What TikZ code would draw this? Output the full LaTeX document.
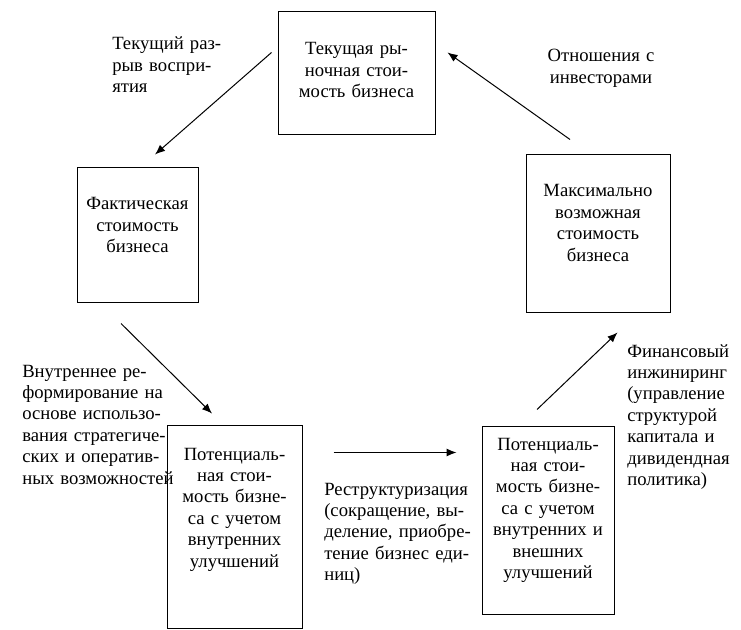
\documentclass[tikz,border=0pt]{standalone}
\usepackage{fontspec}
\setmainfont{Liberation Serif}
\usetikzlibrary{positioning,arrows.meta,calc}
\tikzstyle{vbox}=[rectangle, draw=black, line width=0.75pt, inner sep=0pt, align=center, anchor=base, font=\fontsize{14pt}{16.1pt}\selectfont]
\tikzstyle{ltext}=[inner sep=0pt, align=left, anchor=base west, text width=150pt, font=\fontsize{14pt}{16.1pt}\selectfont]
\tikzstyle{vline}=[-{Latex[length=7.5pt,width=6pt]}, line width=0.75pt, black]

\begin{document}
\begin{tikzpicture}[x=0.75pt, y=-0.75pt]
    \useasboundingbox (0,0) rectangle (741,630);

    \node (cur) [vbox, text width=117.75pt, text height=32.25pt, text depth=60pt] at (356.5,55)
	{Текущая ры-\\ночная стои-\\мость бизнеса};
    \node (fact) [vbox, text width=90.75pt, text height=31.5pt, text depth=69.75pt] at (137.5,210)
	{Фактическая\\стоимость\\бизнеса};
    \node (max) [vbox, text width=108pt, text height=31.5pt, text depth=87pt] at (598,197)
	{Максимально\\возможная\\стоимость\\бизнеса};
    \node (pin) [vbox, text width=101.25pt, text height=26.25pt, text depth=126pt] at (234.5,460)
	{Потенциаль-\\ная стои-\\мость бизне-\\са с учетом\\внутренних\\улучшений};
    \node (pext) [vbox, text width=99pt, text height=18pt, text depth=123pt] at (548,450)
	{Потенциаль-\\ная стои-\\мость бизне-\\са с учетом\\внутренних и\\внешних\\улучшений};

% labels
    \node (gap) [ltext] at (112,50) {Текущий раз-\\рыв воспри-\\ятия};
    \node (inv) [ltext, align=center, anchor=base, text width=90pt] at (601,62) {Отношения с\\инвесторами};
    \node (intl) [ltext] at (22,377) {Внутреннее ре-\\формирование на\\основе использо-\\вания стратегиче-\\ских и оператив-\\ных возможностей};
    \node (restr) [ltext] at (324,495) {Реструктуризация\\(сокращение, вы-\\деление, приобре-\\тение бизнес еди-\\ниц)};
    \node (fin) [ltext] at (627,357) {Финансовый\\инжиниринг\\(управление\\структурой\\капитала и\\дивидендная\\политика)};

% lines
   \draw[vline] ($(cur.north west)+(-6,41)$) -- ($(fact.north)+(17.5,-13)$);
   \draw[vline] ($(fact.south)+(-16.5,20)$) -- ($(pin.north)+(-22.5,-11)$);
   \draw[vline] ($(pin.north east)+(31,28)$) -- ($(pext.north west)+(-25,27)$);
   \draw[vline] ($(pext.north)+(-11,-16)$) -- ($(max.south east)+(-53,19)$);
   \draw[vline] ($(max.north)+(-28,-15)$) -- ($(cur.north east)+(12,41)$);
\end{tikzpicture}
\end{document}
